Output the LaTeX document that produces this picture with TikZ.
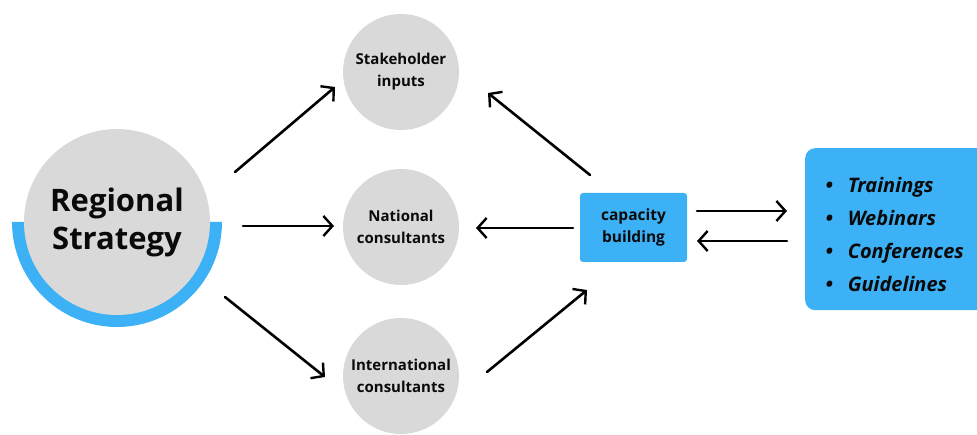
\documentclass[tikz,border=0pt]{standalone}
\usepackage{fontspec}
\setmainfont{Open Sans}
\usetikzlibrary{arrows.meta}
\definecolor{cgray}{HTML}{D9D9D9}
\definecolor{cblue}{HTML}{3DB1F5}
\definecolor{ctext}{HTML}{0A0A0A}
\tikzset{
  circ/.style={circle, fill=cgray, minimum size=#1, inner sep=0pt, align=center, font=\bfseries\fontsize{15}{22}\selectfont, text=ctext},
  arr/.style={draw=black, line width=2.6pt, line cap=round, -{Straight Barb[length=9pt,width=20pt,line width=2.4pt]}},
}
\begin{document}
\begin{tikzpicture}[x=1pt,y=-1pt]
\useasboundingbox (0,0) rectangle (977,435);
% Regional strategy
\fill[cblue] (12,222) arc[start angle=180,end angle=0,radius=105] -- cycle;
\node[circ=186pt, font=\bfseries\fontsize{31}{38}\selectfont] (rs) at (117,222) {Regional\\Strategy};
% circles
\node[circ=116pt] (sh) at (401,72) {Stakeholder\\inputs};
\node[circ=116pt] (nc) at (401,227) {National\\consultants};
\node[circ=116pt] (ic) at (401,376) {International\\consultants};
% capacity building
\node[fill=cblue, rounded corners=3pt, minimum width=107pt, minimum height=69pt, align=center, font=\bfseries\fontsize{15.5}{22}\selectfont, text=ctext] (cb) at (633.5,227.5) {capacity\\building};
% right box
\node[fill=cblue, rounded corners=10pt, minimum width=185pt, minimum height=162pt, anchor=north west, inner sep=0pt] (lst) at (805,148) {};
\node[anchor=west, align=left, font=\bfseries\itshape\fontsize{20}{33}\selectfont, text=ctext] (items) at (822,235)
 {\textbullet\hspace{15pt}Trainings\\\textbullet\hspace{15pt}Webinars\\\textbullet\hspace{15pt}Conferences\\\textbullet\hspace{15pt}Guidelines};
% coordinates for arrows
\coordinate (a1s) at (235,172); \coordinate (a1e) at (335,87);
\coordinate (a2s) at (243,226); \coordinate (a2e) at (334,226);
\coordinate (a3s) at (225,297); \coordinate (a3e) at (325,377);
\coordinate (a4s) at (590,175); \coordinate (a4e) at (488,93);
\coordinate (a5s) at (573,228); \coordinate (a5e) at (476,228);
\coordinate (a6s) at (487,372); \coordinate (a6e) at (587,290);
\coordinate (a7s) at (697,211); \coordinate (a7e) at (787,211);
\coordinate (a8s) at (787,241); \coordinate (a8e) at (697,241);
\draw[arr] (a1s) -- (a1e);
\draw[arr] (a2s) -- (a2e);
\draw[arr] (a3s) -- (a3e);
\draw[arr] (a4s) -- (a4e);
\draw[arr] (a5s) -- (a5e);
\draw[arr] (a6s) -- (a6e);
\draw[arr] (a7s) -- (a7e);
\draw[arr] (a8s) -- (a8e);
\end{tikzpicture}
\end{document}
